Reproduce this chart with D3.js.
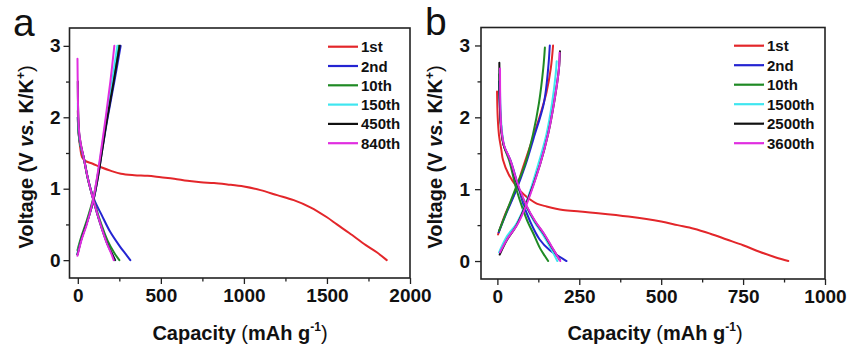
<!DOCTYPE html>
<html><head><meta charset="utf-8">
<script src="https://cdn.jsdelivr.net/npm/d3@7"></script>
<style>
html,body{margin:0;padding:0;background:#fff;}
svg{display:block;font-family:"Liberation Sans",Arial,sans-serif;}
</style></head>
<body>
<svg id="chart" width="850" height="349"></svg>
<script>
// ---------- DATA ----------
const seriesLabelsA = ["1st", "2nd", "10th", "150th", "450th", "840th"];
const seriesLabelsB = ["1st", "2nd", "10th", "1500th", "2500th", "3600th"];
const seriesColors = ["#e3262a", "#2424d2", "#1f8a24", "#3fe6f0", "#111111", "#e02ee0"];
const xTicksA = [0, 500, 1000, 1500, 2000];
const xTicksB = [0, 250, 500, 750, 1000];
const yTicks = [0, 1, 2, 3];

// Panel a : discharge [capacity, voltage]
const aDis1st = [[0,2.09],[3,1.9],[8,1.7],[16,1.55],[26,1.44],[45,1.39],[90,1.35],[140,1.3],[200,1.25],[260,1.21],[340,1.19],[420,1.18],[500,1.16],[580,1.14],[660,1.11],[740,1.09],[820,1.08],[900,1.06],[1000,1.03],[1100,0.98],[1200,0.91],[1300,0.84],[1400,0.74],[1500,0.6],[1560,0.5],[1634,0.38],[1734,0.21],[1800,0.11],[1860,0]];
const aDis2nd = [[0,2.0],[4,1.8],[12,1.65],[22,1.55],[36,1.43],[62,1.13],[100,0.84],[144,0.63],[194,0.4],[254,0.19],[290,0.08],[316,0]];
const aDis10th = [[0,2.0],[4,1.8],[12,1.65],[22,1.55],[36,1.43],[62,1.12],[96,0.84],[136,0.54],[180,0.27],[220,0.1],[250,0]];
const aDis150th = [[0,2.2],[3,1.9],[10,1.72],[20,1.58],[34,1.45],[60,1.15],[94,0.84],[134,0.52],[176,0.24],[204,0.1],[226,0]];
const aDis450th = [[0,2.5],[2,2.1],[8,1.78],[20,1.6],[34,1.45],[60,1.15],[94,0.84],[134,0.52],[176,0.24],[204,0.1],[224,0]];
const aDis840th = [[-2,2.82],[0,2.4],[3,2.0],[10,1.75],[20,1.6],[34,1.45],[60,1.15],[94,0.84],[134,0.52],[174,0.24],[200,0.1],[216,0]];
// Panel a : charge
const aCha2nd = [[-2,0.08],[22,0.3],[54,0.52],[94,0.84],[124,1.2],[144,1.5],[180,2.0],[220,2.5],[258,3.0]];
const aCha10th = [[-2,0.14],[20,0.32],[52,0.54],[92,0.86],[122,1.22],[142,1.5],[176,2.0],[212,2.5],[246,3.0]];
const aCha150th = [[-2,0.1],[22,0.3],[54,0.52],[94,0.84],[122,1.22],[140,1.5],[172,2.0],[206,2.5],[238,3.0]];
const aCha450th = [[-2,0.08],[22,0.3],[54,0.52],[94,0.84],[124,1.2],[144,1.5],[178,2.0],[216,2.5],[252,3.0]];
const aCha840th = [[-2,0.06],[22,0.28],[54,0.5],[92,0.84],[120,1.22],[138,1.5],[168,2.0],[196,2.5],[220,3.0]];

// Panel b : discharge
const bDis1st = [[-1,2.36],[1,2.0],[5,1.75],[12,1.55],[17,1.41],[35,1.2],[58,1.04],[80,0.93],[99,0.86],[120,0.8],[150,0.76],[200,0.71],[252,0.69],[300,0.67],[400,0.62],[500,0.55],[550,0.5],[600,0.45],[650,0.38],[700,0.3],[750,0.22],[800,0.13],[850,0.05],[888,0]];
const bDis2nd = [[5,2.5],[8,2.1],[12,1.85],[20,1.6],[40,1.4],[60,1.1],[78,0.81],[100,0.55],[129,0.3],[160,0.15],[190,0.06],[211,0]];
const bDis10th = [[6,2.6],[8,2.2],[12,1.85],[20,1.6],[36,1.4],[58,1.0],[78,0.72],[95,0.52],[109,0.39],[130,0.18],[145,0.07],[155,0]];
const bDis1500th = [[7,2.65],[9,2.2],[13,1.85],[21,1.6],[38,1.41],[58,1.1],[86,0.78],[112,0.55],[140,0.36],[165,0.16],[183,0]];
const bDis2500th = [[6,2.76],[7,2.3],[9,2.0],[12,1.8],[20,1.6],[38,1.41],[58,1.1],[89,0.76],[115,0.55],[140,0.39],[165,0.2],[190,0.02]];
const bDis3600th = [[8,2.68],[8.5,2.3],[10,2.0],[13,1.8],[21,1.6],[39,1.41],[60,1.1],[90,0.76],[116,0.55],[141,0.39],[166,0.2],[192,0]];
// Panel b : charge
const bCha1st = [[2,0.37],[22,0.63],[53,0.95],[78,1.3],[100,1.6],[125,1.95],[150,2.35],[163,2.68],[170,3.0]];
const bCha2nd = [[4,0.4],[24,0.63],[56,0.97],[86,1.34],[110,1.7],[142,2.2],[155,2.68],[160,3.0]];
const bCha10th = [[5,0.42],[25,0.65],[58,1.04],[84,1.34],[109,1.77],[127,2.2],[140,2.68],[145,2.97]];
const bCha1500th = [[5,0.12],[30,0.35],[58,0.52],[89,0.83],[125,1.35],[150,1.77],[167,2.2],[178,2.6],[181,2.78]];
const bCha2500th = [[7,0.09],[30,0.3],[58,0.49],[89,0.81],[130,1.34],[155,1.77],[173,2.2],[188,2.68],[191,2.92]];
const bCha3600th = [[8,0.12],[32,0.32],[60,0.5],[90,0.8],[130,1.34],[155,1.77],[173,2.2],[188,2.68],[190,2.9]];

// ---------- DRAW ----------
const svg = d3.select("#chart");
const FONT = "'Liberation Sans', Arial, sans-serif";

function drawPanel(o) {
  const x = d3.scaleLinear().domain(o.xDomain).range([o.left, o.right]);
  const y = d3.scaleLinear().domain([-0.25, 3.25]).range([o.bottom, o.top]);
  const g = svg.append("g");

  const xStep = o.xTicks[1] - o.xTicks[0];
  const xMinor = o.xTicks.slice(0, -1).map(v => v + xStep / 2);
  const yMinor = [0.5, 1.5, 2.5];

  const ax = d3.axisBottom(x).tickValues(o.xTicks).tickSize(6).tickPadding(5).tickFormat(d3.format("d"));
  const gx = g.append("g").attr("transform", `translate(0,${o.bottom})`).call(ax);
  const axm = d3.axisBottom(x).tickValues(xMinor).tickSize(3.5).tickFormat("");
  const gxm = g.append("g").attr("transform", `translate(0,${o.bottom})`).call(axm);
  const ay = d3.axisLeft(y).tickValues(yTicks).tickSize(6).tickPadding(o.yPad).tickFormat(d3.format("d"));
  const gy = g.append("g").attr("transform", `translate(${o.left},0)`).call(ay);
  const aym = d3.axisLeft(y).tickValues(yMinor).tickSize(3.5).tickFormat("");
  const gym = g.append("g").attr("transform", `translate(${o.left},0)`).call(aym);
  [gx, gxm, gy, gym].forEach(s => {
    s.select(".domain").remove();
    s.selectAll("line").attr("stroke", "#222").attr("stroke-width", 1.3);
    s.selectAll("text").attr("font-family", FONT).attr("font-size", 19).attr("font-weight", "bold").attr("fill", "#111");
  });

  const line = d3.line().x(d => x(d[0])).y(d => y(d[1])).curve(d3.curveCatmullRom.alpha(0.5));
  o.curves.forEach(c => {
    g.append("path").attr("d", line(c.data)).attr("fill", "none")
      .attr("stroke", seriesColors[c.idx]).attr("stroke-width", 2).attr("stroke-linejoin", "round").attr("stroke-linecap", "round");
  });

  g.append("rect").attr("x", o.left).attr("y", o.top).attr("width", o.right - o.left).attr("height", o.bottom - o.top)
    .attr("fill", "none").attr("stroke", "#222").attr("stroke-width", 1.6);

  o.labels.forEach((lab, i) => {
    const yy = o.legY + i * o.legDy;
    g.append("line").attr("x1", o.legX).attr("x2", o.legX + 30).attr("y1", yy).attr("y2", yy)
      .attr("stroke", seriesColors[i]).attr("stroke-width", 2.2);
    g.append("text").attr("x", o.legX + 33).attr("y", yy + 5.5).text(lab)
      .attr("font-family", FONT).attr("font-size", 15).attr("font-weight", "bold").attr("fill", "#111");
  });

  const yt = g.append("text").attr("transform", `translate(${o.yTitleX},${o.yTitleY}) rotate(-90)`)
    .attr("text-anchor", "middle").attr("font-family", FONT).attr("font-size", 20).attr("font-weight", "bold").attr("fill", "#111");
  yt.append("tspan").text("Voltage (V ");
  yt.append("tspan").attr("font-style", "italic").text("vs.");
  yt.append("tspan").text(" K/K");
  yt.append("tspan").attr("font-size", 12).attr("dy", -8).text("+");
  yt.append("tspan").attr("dy", 8).attr("font-weight", "normal").text(")");

  const xt = g.append("text").attr("x", o.xTitleX).attr("y", 340).attr("text-anchor", "middle")
    .attr("font-family", FONT).attr("font-size", 20).attr("font-weight", "bold").attr("fill", "#111");
  xt.append("tspan").text("Capacity ");
  xt.append("tspan").attr("font-weight", "normal").text("(");
  xt.append("tspan").text("mAh g");
  xt.append("tspan").attr("font-size", 12).attr("dy", -9).text("-1");
  xt.append("tspan").attr("dy", 9).attr("font-weight", "normal").text(")");

  svg.append("text").attr("x", o.letterX).attr("y", o.letterY).text(o.letter)
    .attr("font-family", FONT).attr("font-size", 39).attr("fill", "#111");
}

drawPanel({
  left: 69.5, right: 410, top: 28, bottom: 278, xDomain: [-50, 2000], xTicks: xTicksA, yPad: 3,
  labels: seriesLabelsA, legX: 328, legY: 46.7, legDy: 19.3,
  yTitleX: 33, yTitleY: 157, xTitleX: 240, letter: "a", letterX: 13, letterY: 36,
  curves: [
    {idx: 0, data: aDis1st},
    {idx: 1, data: aDis2nd}, {idx: 1, data: aCha2nd},
    {idx: 2, data: aDis10th}, {idx: 2, data: aCha10th},
    {idx: 3, data: aDis150th}, {idx: 3, data: aCha150th},
    {idx: 4, data: aDis450th}, {idx: 4, data: aCha450th},
    {idx: 5, data: aDis840th}, {idx: 5, data: aCha840th}
  ]
});

drawPanel({
  left: 481, right: 825, top: 27.5, bottom: 279, xDomain: [-50, 1000], xTicks: xTicksB, yPad: 5,
  labels: seriesLabelsB, legX: 734, legY: 45.7, legDy: 19.5,
  yTitleX: 442, yTitleY: 157, xTitleX: 655, letter: "b", letterX: 425, letterY: 35,
  curves: [
    {idx: 0, data: bDis1st}, {idx: 0, data: bCha1st},
    {idx: 1, data: bDis2nd}, {idx: 1, data: bCha2nd},
    {idx: 2, data: bDis10th}, {idx: 2, data: bCha10th},
    {idx: 3, data: bDis1500th}, {idx: 3, data: bCha1500th},
    {idx: 4, data: bDis2500th}, {idx: 4, data: bCha2500th},
    {idx: 5, data: bDis3600th}, {idx: 5, data: bCha3600th}
  ]
});
</script>
</body></html>
